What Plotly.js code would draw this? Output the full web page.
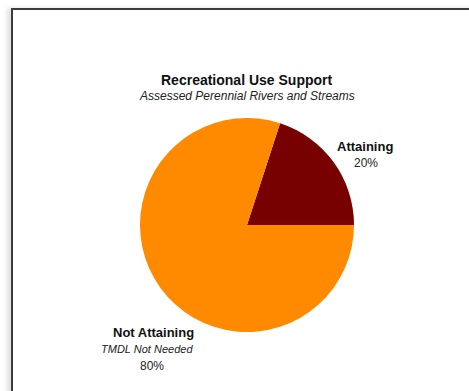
<!DOCTYPE html>
<html>
<head>
<meta charset="utf-8">
<script src="https://cdn.plot.ly/plotly-3.0.1.min.js"></script>
<style>
  html, body { margin: 0; padding: 0; background: #ffffff; }
  #wrap { position: relative; width: 469px; height: 391px; overflow: hidden; background: #fff; }
  #frame { position: absolute; left: 11px; top: 8px; width: 480px; height: 400px;
           border-left: 2px solid #3c3c3c; border-top: 2px solid #3c3c3c;
           box-shadow: -4px 0 5px rgba(0,0,0,0.12); }
  #chart { position: absolute; left: 0; top: 0; width: 469px; height: 391px; }
</style>
</head>
<body>
<div id="wrap">
  <div id="frame"></div>
  <div id="chart"></div>
</div>
<script>
const categories = ["Attaining", "Not Attaining"];
const values = [20, 80];
const percentLabels = ["20%", "80%"];
const subLabels = ["", "TMDL Not Needed"];
const colors = ["#770000", "#ff8a00"];

const W = 469, H = 391;
const cx = 247, cy = 225, r = 107;

const trace = {
  type: "pie",
  labels: categories,
  values: values,
  sort: false,
  direction: "clockwise",
  rotation: 18,
  textinfo: "none",
  hoverinfo: "none",
  marker: { colors: colors, line: { width: 0 } },
  domain: {
    x: [(cx - r) / W, (cx + r) / W],
    y: [(H - cy - r) / H, (H - cy + r) / H]
  },
  showlegend: false
};

const font = "Liberation Sans, Arial, sans-serif";
function px(x) { return x / W; }
function py(y) { return 1 - y / H; }

const annotations = [
  { x: px(246), y: py(80), text: "<b>Recreational Use Support</b>", font: { family: font, size: 14, color: "#111" } },
  { x: px(247), y: py(96), text: "<i>Assessed Perennial Rivers and Streams</i>", font: { family: font, size: 12, color: "#222" } },
  { x: px(365), y: py(147), text: "<b>" + categories[0] + "</b>", font: { family: font, size: 13, color: "#111" } },
  { x: px(366), y: py(163), text: percentLabels[0], font: { family: font, size: 12, color: "#222" } },
  { x: px(153), y: py(332), text: "<b>" + categories[1] + "</b>", font: { family: font, size: 13, color: "#111" } },
  { x: px(147), y: py(349), text: "<i>" + subLabels[1] + "</i>", font: { family: font, size: 11, color: "#222" } },
  { x: px(152), y: py(366), text: percentLabels[1], font: { family: font, size: 12, color: "#222" } }
].map(a => Object.assign({ xref: "paper", yref: "paper", showarrow: false, xanchor: "center", yanchor: "middle" }, a));

const layout = {
  width: W, height: H,
  margin: { l: 0, r: 0, t: 0, b: 0 },
  paper_bgcolor: "rgba(0,0,0,0)",
  plot_bgcolor: "rgba(0,0,0,0)",
  annotations: annotations,
  showlegend: false
};

Plotly.newPlot("chart", [trace], layout, { displayModeBar: false, staticPlot: true });
</script>
</body>
</html>
